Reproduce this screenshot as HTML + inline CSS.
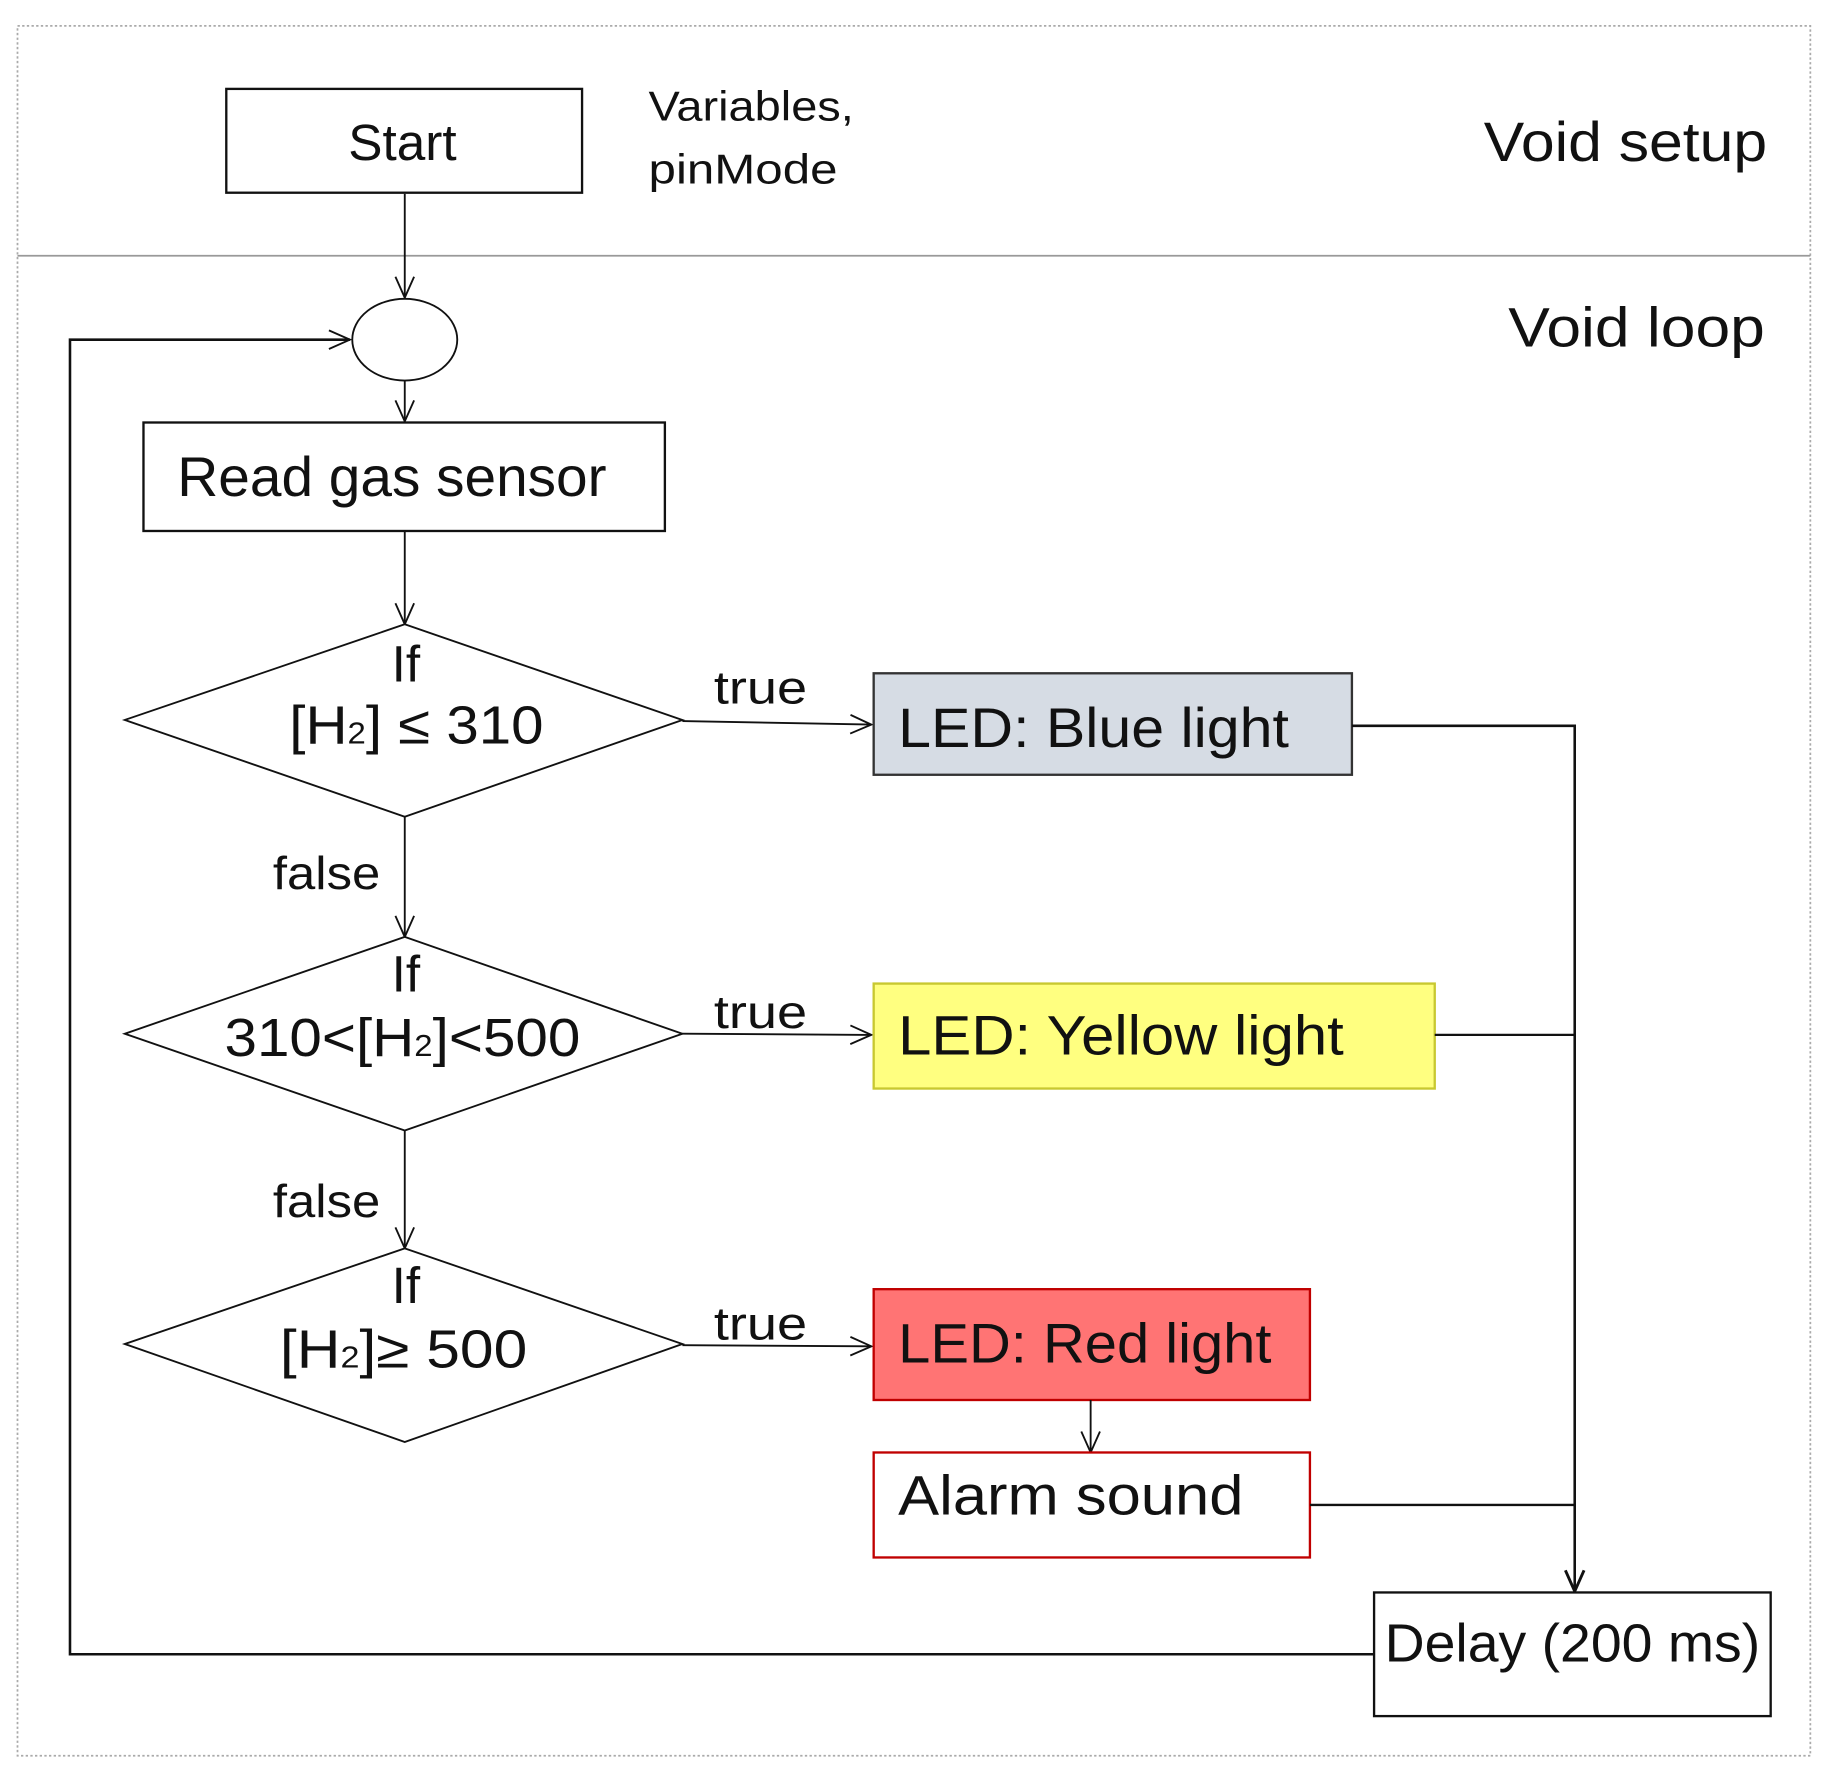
<!DOCTYPE html>
<html><head><meta charset="utf-8"><style>
html,body{margin:0;padding:0;background:#fff;}
svg{display:block;}
text{font-family:"Liberation Sans",sans-serif;fill:#111;}
</style></head><body>
<svg width="1829" height="1777" viewBox="0 0 1568 1523" xmlns="http://www.w3.org/2000/svg">
<defs>
<marker id="a" markerWidth="24" markerHeight="24" refX="20" refY="10" orient="auto" markerUnits="userSpaceOnUse">
<path d="M2,2 L20,10 L2,18" fill="none" stroke="#111" stroke-width="1.6"/>
</marker>
<marker id="b" markerWidth="24" markerHeight="24" refX="20" refY="10" orient="auto" markerUnits="userSpaceOnUse">
<path d="M2,2 L20,10 L2,18" fill="none" stroke="#111" stroke-width="2.5"/>
</marker>
</defs>
<rect x="15" y="22" width="1537" height="1483" fill="none" stroke="#aaa" stroke-width="1.5" stroke-dasharray="2,2"/>
<line x1="15" y1="219" x2="1552" y2="219" stroke="#999" stroke-width="1.5"/>

<rect x="194" y="76" width="305" height="89" fill="#fff" stroke="#111" stroke-width="2"/>
<text x="345" y="137" font-size="44" text-anchor="middle">Start</text>
<text x="556" y="103" font-size="36" textLength="176" lengthAdjust="spacingAndGlyphs">Variables,</text>
<text x="556" y="157" font-size="36" textLength="162" lengthAdjust="spacingAndGlyphs">pinMode</text>
<text x="1515" y="138" font-size="48" text-anchor="end" textLength="243" lengthAdjust="spacingAndGlyphs">Void setup</text>
<text x="1513" y="297" font-size="48" text-anchor="end" textLength="220" lengthAdjust="spacingAndGlyphs">Void loop</text>

<line x1="347" y1="166" x2="347" y2="255" stroke="#111" stroke-width="1.6" marker-end="url(#a)"/>
<ellipse cx="347" cy="291" rx="45" ry="35" fill="#fff" stroke="#111" stroke-width="1.6"/>
<line x1="347" y1="326" x2="347" y2="361" stroke="#111" stroke-width="1.6" marker-end="url(#a)"/>
<rect x="123" y="362" width="447" height="93" fill="#fff" stroke="#111" stroke-width="2"/>
<text x="152" y="425" font-size="48" textLength="368" lengthAdjust="spacingAndGlyphs">Read gas sensor</text>
<line x1="347" y1="455" x2="347" y2="535" stroke="#111" stroke-width="1.6" marker-end="url(#a)"/>

<polygon points="347,535 585,617 347,700 107,617" fill="#fff" stroke="#111" stroke-width="1.6"/>
<text x="348" y="584" font-size="44" text-anchor="middle">If</text>
<text x="357" y="637" font-size="46" text-anchor="middle" textLength="218" lengthAdjust="spacingAndGlyphs">[H<tspan font-size="26">2</tspan>] ≤ 310</text>
<line x1="585" y1="618" x2="747" y2="621" stroke="#111" stroke-width="1.6" marker-end="url(#a)"/>
<text x="652" y="603" font-size="40" text-anchor="middle" textLength="80" lengthAdjust="spacingAndGlyphs">true</text>
<rect x="749" y="577" width="410" height="87" fill="#d6dce4" stroke="#333" stroke-width="2"/>
<text x="770" y="640" font-size="48" textLength="335" lengthAdjust="spacingAndGlyphs">LED: Blue light</text>
<polyline points="1159,622 1350,622 1350,1364" fill="none" stroke="#111" stroke-width="2.2" marker-end="url(#b)"/>

<text x="280" y="762" font-size="40" text-anchor="middle" textLength="92" lengthAdjust="spacingAndGlyphs">false</text>
<line x1="347" y1="700" x2="347" y2="803" stroke="#111" stroke-width="1.6" marker-end="url(#a)"/>
<polygon points="347,803 585,886 347,969 107,886" fill="#fff" stroke="#111" stroke-width="1.6"/>
<text x="348" y="850" font-size="44" text-anchor="middle">If</text>
<text x="345" y="905" font-size="46" text-anchor="middle" textLength="305" lengthAdjust="spacingAndGlyphs">310&lt;[H<tspan font-size="26">2</tspan>]&lt;500</text>
<line x1="585" y1="886" x2="747" y2="887" stroke="#111" stroke-width="1.6" marker-end="url(#a)"/>
<text x="652" y="881" font-size="40" text-anchor="middle" textLength="80" lengthAdjust="spacingAndGlyphs">true</text>
<rect x="749" y="843" width="481" height="90" fill="#ffff80" stroke="#c8c830" stroke-width="2"/>
<text x="770" y="904" font-size="48" textLength="382" lengthAdjust="spacingAndGlyphs">LED: Yellow light</text>
<line x1="1230" y1="887" x2="1350" y2="887" stroke="#111" stroke-width="2"/>

<text x="280" y="1043" font-size="40" text-anchor="middle" textLength="92" lengthAdjust="spacingAndGlyphs">false</text>
<line x1="347" y1="969" x2="347" y2="1070" stroke="#111" stroke-width="1.6" marker-end="url(#a)"/>
<polygon points="347,1070 585,1152 347,1236 107,1152" fill="#fff" stroke="#111" stroke-width="1.6"/>
<text x="348" y="1117" font-size="44" text-anchor="middle">If</text>
<text x="346" y="1172" font-size="46" text-anchor="middle" textLength="212" lengthAdjust="spacingAndGlyphs">[H<tspan font-size="26">2</tspan>]≥ 500</text>
<line x1="585" y1="1153" x2="747" y2="1154" stroke="#111" stroke-width="1.6" marker-end="url(#a)"/>
<text x="652" y="1148" font-size="40" text-anchor="middle" textLength="80" lengthAdjust="spacingAndGlyphs">true</text>
<rect x="749" y="1105" width="374" height="95" fill="#ff7474" stroke="#c00000" stroke-width="2"/>
<text x="770" y="1168" font-size="48" textLength="320" lengthAdjust="spacingAndGlyphs">LED: Red light</text>
<line x1="935" y1="1200" x2="935" y2="1245" stroke="#111" stroke-width="1.6" marker-end="url(#a)"/>
<rect x="749" y="1245" width="374" height="90" fill="#fff" stroke="#c00000" stroke-width="2"/>
<text x="770" y="1298" font-size="48" textLength="296" lengthAdjust="spacingAndGlyphs">Alarm sound</text>
<line x1="1123" y1="1290" x2="1350" y2="1290" stroke="#111" stroke-width="2"/>

<rect x="1178" y="1365" width="340" height="106" fill="#fff" stroke="#111" stroke-width="2"/>
<text x="1348" y="1424" font-size="46" text-anchor="middle" textLength="322" lengthAdjust="spacingAndGlyphs">Delay (200 ms)</text>
<polyline points="1178,1418 60,1418 60,291 300,291" fill="none" stroke="#111" stroke-width="2.2" marker-end="url(#a)"/>
</svg>
</body></html>
